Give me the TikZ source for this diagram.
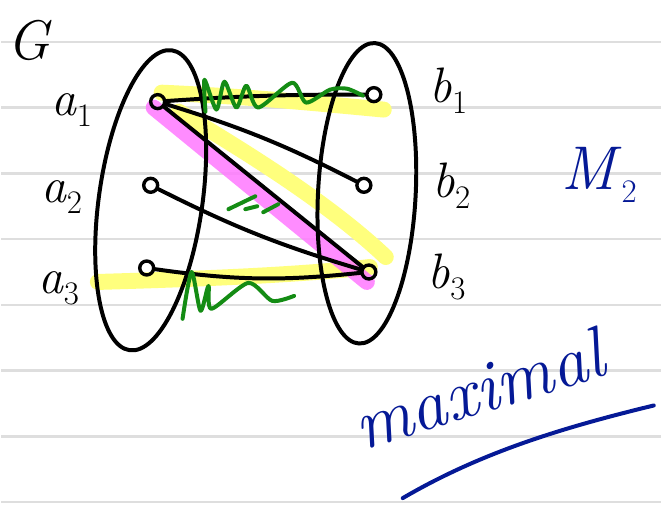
\documentclass[tikz,border=0pt]{standalone}
\usepackage{fontspec}
\usepackage{xcolor}
\usetikzlibrary{positioning,calc}
\definecolor{hlyellow}{RGB}{255,255,125}
\definecolor{hlpink}{RGB}{255,120,255}
\definecolor{inkgreen}{RGB}{20,140,20}
\definecolor{inkblue}{RGB}{5,25,150}
\definecolor{rulegray}{RGB}{222,222,222}
\pgfdeclarelayer{paper}
\pgfdeclarelayer{marker}
\pgfsetlayers{paper,marker,main}
% letter with a lowered index, all in text fonts
\newcommand{\vlab}[2]{\textit{#1}\raisebox{-.22em}{\fontsize{33}{38}\selectfont #2}}

\begin{document}
\begin{tikzpicture}[x=1pt,y=-1pt,
  vtx/.style={draw,circle,line width=3.4pt,minimum size=14pt,inner sep=0pt},
  lbl/.style={font=\fontsize{50}{58}\selectfont,anchor=base west,inner sep=0pt},
  link/.style={line width=4pt,line cap=round},
  side/.style={line width=4pt},
  hl/.style={line width=16pt,line cap=round,line join=round},
  ink/.style={draw=inkgreen,line width=4pt,line cap=round,line join=round},
  pen/.style={text=inkblue,inner sep=0pt,anchor=base west}]
% ruled paper
\begin{pgfonlayer}{paper}
\fill[white] (0,0) rectangle (662,507);
\foreach \y in {42,108,174,240,306,372,438,504}
  \draw[rulegray,line width=2.5pt] (0,\y) -- (662,\y);
\end{pgfonlayer}
\useasboundingbox (0,0) rectangle (662,507);
% vertices
\node[vtx] (a1) at (157,102) {};
\node[vtx] (a2) at (150,186) {};
\node[vtx] (a3) at (146,269) {};
\node[vtx] (b1) at (374,95) {};
\node[vtx] (b2) at (364,186) {};
\node[vtx] (b3) at (369,273) {};
% the two sides
\draw[side,rotate around={-8:(150,201)}] (150,201) ellipse [x radius=52,y radius=152];
\draw[side,rotate around={-3:(367,194)}] (367,194) ellipse [x radius=49,y radius=151];
% highlighter
\begin{pgfonlayer}{marker}
\draw[hl,hlyellow] (161,93) .. controls (250,97) and (320,104) .. (384,110);
\draw[hl,hlyellow] (178,112) .. controls (250,155) and (330,205) .. (386,258);
\draw[hl,hlyellow] (97,283) .. controls (200,280) and (300,276) .. (370,268);
\draw[hl,hlpink,opacity=.85] (153,108) -- (367,283);
\end{pgfonlayer}
% edges
\draw[link] (a1) to[bend left=2] (b1);
\draw[link] (a1) to[bend left=5] (b2);
\draw[link] (a1) -- (b3);
\draw[link] (a2) to[bend right=5] (b3);
\draw[link] (a3) to[bend right=7] (b3);
% green marks
\draw[ink] plot[smooth,tension=.45] coordinates {(205,112) (204,80) (216,110) (224,82) (236,108) (246,86) (258,108) (292,83) (306,103) (330,90) (347,89) (363,96)};
\draw[ink] plot[smooth,tension=.45] coordinates {(182,320) (191,273) (200,312) (208,287) (211,310) (248,284) (272,302) (294,297)};
\draw[ink] (228,210) -- (255,197);
\draw[ink] (245,210) -- (257,207);
\draw[ink] (263,213) -- (278,205);
% labels
\node[lbl,font=\fontsize{56}{64}\selectfont\itshape] (g) at (6,60) {G};
\node[lbl] (la1) at (50,116) {\vlab{a}{1}};
\node[lbl] (la2) at (40,203) {\vlab{a}{2}};
\node[lbl] (la3) at (37,295) {\vlab{a}{3}};
\node[lbl] (lb1) at (430,103) {\vlab{b}{1}};
\node[lbl] (lb2) at (433,198) {\vlab{b}{2}};
\node[lbl] (lb3) at (428,290) {\vlab{b}{3}};
\node[pen,font=\fontsize{62}{70}\selectfont] (m2) at (562,190) {\vlab{M}{2}};
\node[pen,font=\fontsize{72}{80}\selectfont\itshape,rotate=17] (maxi) at (362,452) {maximal};
\draw[inkblue,line width=4pt,line cap=round] (403,500) .. controls (480,455) and (560,430) .. (655,407);
\end{tikzpicture}
\end{document}
